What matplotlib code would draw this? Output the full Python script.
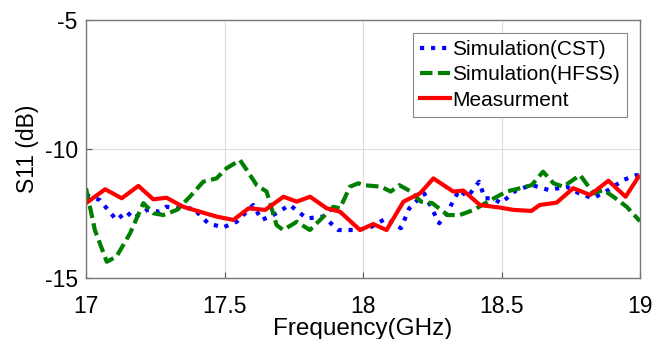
import matplotlib
matplotlib.use('Agg')
import matplotlib.pyplot as plt
import numpy as np

plt.rcParams['font.family'] = ['Liberation Sans', 'DejaVu Sans']
plt.rcParams['axes.unicode_minus'] = False

# Simulation (CST)
cst_f = [17.0, 17.05, 17.11, 17.147, 17.17, 17.22, 17.267, 17.29, 17.34, 17.387,
         17.441, 17.495, 17.544, 17.604, 17.634, 17.676, 17.736, 17.797, 17.857,
         17.911, 17.983, 18.031, 18.083, 18.137, 18.167, 18.221, 18.275, 18.299,
         18.347, 18.378, 18.419, 18.44, 18.468, 18.498, 18.554, 18.61, 18.671,
         18.735, 18.78, 18.83, 18.886, 18.94, 18.988, 19.0]
cst_db = [-11.78, -11.98, -12.75, -12.43, -12.69, -12.36, -12.43, -12.24, -12.30, -12.30,
          -12.88, -13.04, -12.82, -12.17, -12.75, -12.56, -12.17, -12.69, -12.62,
          -13.14, -13.14, -13.01, -12.69, -13.07, -12.30, -11.72, -12.88, -12.56,
          -11.59, -11.85, -11.27, -11.91, -11.91, -12.10, -11.59, -11.40, -11.59,
          -11.46, -11.72, -11.91, -11.59, -11.20, -11.01, -11.05]

# Simulation (HFSS)
hfss_f = [17.0, 17.032, 17.075, 17.11, 17.159, 17.207, 17.243, 17.279, 17.328, 17.375,
          17.423, 17.471, 17.507, 17.556, 17.58, 17.616, 17.652, 17.688, 17.712,
          17.761, 17.808, 17.845, 17.893, 17.917, 17.953, 17.983, 18.0, 18.065,
          18.1, 18.131, 18.173, 18.209, 18.25, 18.306, 18.349, 18.4, 18.461,
          18.518, 18.567, 18.609, 18.65, 18.688, 18.723, 18.784, 18.832, 18.868,
          18.904, 18.952, 19.0]
hfss_db = [-11.52, -13.14, -14.37, -14.17, -13.27, -12.10, -12.49, -12.56, -12.36, -11.85,
           -11.27, -11.14, -10.75, -10.43, -10.81, -11.40, -11.65, -12.95, -13.14,
           -12.82, -13.14, -12.75, -12.24, -12.30, -11.46, -11.33, -11.40, -11.46,
           -11.65, -11.40, -11.65, -12.04, -12.10, -12.56, -12.56, -12.36, -11.98,
           -11.65, -11.52, -11.40, -10.88, -11.33, -11.46, -11.01, -11.72, -11.59,
           -11.85, -12.24, -12.80]

# Measurement
meas_f = [17.0, 17.069, 17.129, 17.189, 17.243, 17.291, 17.351, 17.411, 17.472, 17.532,
          17.587, 17.647, 17.713, 17.761, 17.809, 17.869, 17.917, 17.989, 18.037,
          18.085, 18.146, 18.206, 18.254, 18.326, 18.362, 18.422, 18.494, 18.543,
          18.608, 18.638, 18.699, 18.759, 18.82, 18.886, 18.948, 18.995]
meas_db = [-12.10, -11.56, -11.91, -11.43, -11.95, -11.89, -12.24, -12.43, -12.62, -12.75,
           -12.30, -12.36, -11.85, -12.04, -11.85, -12.30, -12.43, -13.14, -12.91,
           -13.14, -12.04, -11.72, -11.14, -11.65, -11.61, -12.17, -12.27, -12.36,
           -12.40, -12.17, -12.08, -11.52, -11.78, -11.23, -11.85, -11.07]

fig = plt.figure(figsize=(6.54, 3.39), dpi=100)
ax = fig.add_axes([86 / 654, 1 - 278 / 339, (640 - 86) / 654, (278 - 20) / 339])

ax.plot(cst_f, cst_db, ':', color='#0000ff', lw=3, label='Simulation(CST)')
ax.plot(hfss_f, hfss_db, '--', color='#008000', lw=3, label='Simulation(HFSS)',
        dashes=(3, 1.3))
ax.plot(meas_f, meas_db, '-', color='#ff0000', lw=3, label='Measurment')

ax.set_xlim(17, 19)
ax.set_ylim(-15, -5)
ax.set_xticks([17, 17.5, 18, 18.5, 19])
ax.set_xticklabels(['17', '17.5', '18', '18.5', '19'])
ax.set_yticks([-15, -10, -5])
ax.grid(True, color='#dcdcdc', lw=0.8)
ax.tick_params(direction='in', labelsize=16.5, color='#555555', length=4)
ax.tick_params(axis='x', pad=12)
ax.tick_params(axis='y', pad=6)
for s in ax.spines.values():
    s.set_color('#777777')
    s.set_linewidth(1.0)

ax.set_xlabel('Frequency(GHz)', fontsize=17.5, labelpad=0)
ax.set_ylabel('S11 (dB)', fontsize=16.5, labelpad=4)

leg = ax.legend(loc='upper right', fontsize=15, handlelength=1.45, handletextpad=0.1,
                borderpad=0.35, labelspacing=0.3, fancybox=False, borderaxespad=0,
                bbox_to_anchor=(0.977, 0.95), framealpha=1)
leg.get_frame().set_edgecolor('#888888')
leg.get_frame().set_linewidth(0.8)

fig.savefig('out.png', dpi=100)
